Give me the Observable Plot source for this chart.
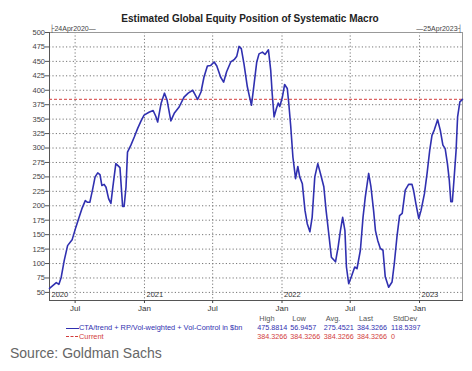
<!DOCTYPE html>
<html><head><meta charset="utf-8">
<script src="https://cdn.jsdelivr.net/npm/d3@7"></script>
<script src="https://cdn.jsdelivr.net/npm/@observablehq/plot@0.6"></script>
<style>
body{margin:0;background:#fff;font-family:"Liberation Sans",Arial,sans-serif;}
#wrap{position:relative;width:472px;height:371px;overflow:hidden;}
#wrap svg{position:absolute;left:0;top:0;}
.abs{position:absolute;white-space:nowrap;line-height:1;}
</style></head><body><div id="wrap"></div>
<script>
const dates = [
"2020-04-24","2020-05-12","2020-05-19","2020-05-25","2020-06-02","2020-06-11","2020-06-23","2020-07-03","2020-07-12","2020-07-19",
"2020-07-28","2020-08-03","2020-08-09","2020-08-16","2020-08-23","2020-08-30","2020-09-05","2020-09-10","2020-09-16","2020-09-21",
"2020-09-28","2020-10-04","2020-10-09","2020-10-17","2020-10-22","2020-10-28","2020-11-04","2020-11-08","2020-11-13","2020-11-17",
"2020-11-26","2020-12-05","2020-12-14","2020-12-23","2020-12-31","2021-01-13","2021-01-24","2021-01-31","2021-02-05","2021-02-14",
"2021-02-23","2021-03-02","2021-03-12","2021-03-21","2021-04-03","2021-04-16","2021-04-27","2021-05-09","2021-05-15","2021-05-22",
"2021-05-31","2021-06-08","2021-06-17","2021-06-26","2021-07-05","2021-07-12","2021-07-22","2021-07-30","2021-08-07","2021-08-18",
"2021-08-27","2021-09-03","2021-09-09","2021-09-15","2021-09-22","2021-10-01","2021-10-07","2021-10-12","2021-10-18","2021-10-26",
"2021-11-01","2021-11-10","2021-11-17","2021-11-26","2021-12-02","2021-12-06","2021-12-11","2021-12-17","2021-12-22","2021-12-26",
"2022-01-02","2022-01-08","2022-01-15","2022-01-19","2022-01-24","2022-01-30","2022-02-06","2022-02-12","2022-02-17","2022-02-24",
"2022-03-03","2022-03-09","2022-03-16","2022-03-22","2022-03-29","2022-04-06","2022-04-13","2022-04-22","2022-04-28","2022-05-05",
"2022-05-12","2022-05-23","2022-05-30","2022-06-05","2022-06-11","2022-06-17","2022-06-21","2022-06-27","2022-07-04","2022-07-13",
"2022-07-19","2022-07-28","2022-08-04","2022-08-10","2022-08-19","2022-08-25","2022-09-01","2022-09-06","2022-09-12","2022-09-19",
"2022-09-26","2022-10-02","2022-10-11","2022-10-20","2022-10-26","2022-11-02","2022-11-09","2022-11-16","2022-11-24","2022-12-03",
"2022-12-12","2022-12-16","2022-12-23","2022-12-30","2023-01-05","2023-01-14","2023-01-21","2023-01-28","2023-02-03","2023-02-09",
"2023-02-18","2023-02-25","2023-03-04","2023-03-10","2023-03-16","2023-03-21","2023-03-25","2023-03-29","2023-04-03","2023-04-08",
"2023-04-12","2023-04-18","2023-04-25"
];
const values = [
57,67,64,76,105,131,141,163,181,195,
209,206,206,227,250,257,254,235,237,232,
212,204,232,273,270,266,199,199,232,293,
305,319,334,347,357,362,365,355,345,377,
395,383,347,360,371,388,395,400,393,384,
397,423,442,443,449,442,423,414,432,449,
453,459,475.9,472,446,406,388,374,406,449,
463,466,462,470,435,394,354,368,378,372,
388,410,403,377,339,284,247,268,250,238,
192,169,155,180,250,273,256,233,192,152,
111,103,129,157,180,157,94,65,77,94,
91,123,180,215,256,233,192,157,140,126,
123,77,59,68,100,146,183,187,227,237,
237,227,201,178,192,221,256,296,322,331,
349,331,305,299,273,244,207,207,250,296,
354,380,384.3
];
const currentValue = 384.3266;
const xTickDates = ["2020-07-01","2021-01-01","2021-07-01","2022-01-01","2022-07-01","2023-01-01"];
const yTicks = [50,75,100,125,150,175,200,225,250,275,300,325,350,375,400,425,450,475,500];
const yearLabels = ["2020","2021","2022","2023"];
const yearDates = ["2020-04-24","2021-01-01","2022-01-01","2023-01-01"];
const startLabel = "├24Apr2020—";
const endLabel = "—25Apr2023┤";
const title = "Estimated Global Equity Position of Systematic Macro";
const statHeaders = ["High","Low","Avg.","Last","StdDev"];
const seriesStats = ["475.8814","56.9457","275.4521","384.3266","118.5397"];
const currentStats = ["384.3266","384.3266","384.3266","384.3266","0"];
const seriesName = "CTA/trend + RP/Vol-weighted + Vol-Control in $bn";
const currentName = "Current";
const source = "Source: Goldman Sachs";

const BLUE = "#3030b0", RED = "#d23c3c";
const data = dates.map((d,i)=>({date:new Date(d), value:values[i]}));
const xt = xTickDates.map(d=>new Date(d));

const chart = Plot.plot({
  width:472, height:315,
  marginTop:32, marginBottom:15, marginLeft:49, marginRight:10,
  style:{fontFamily:'"Liberation Sans",Arial,sans-serif', background:"white", color:"#444", overflow:"visible"},
  x:{type:"utc", domain:[new Date("2020-04-24"), new Date("2023-04-25")]},
  y:{domain:[36,500]},
  marks:[
    Plot.gridY(yTicks,{stroke:"#777", strokeOpacity:1, strokeDasharray:"1.2,2.2"}),
    Plot.gridX(xt,{stroke:"#777", strokeOpacity:1, strokeDasharray:"1.2,2.2"}),
    Plot.frame({stroke:"#999"}),
    Plot.frame({anchor:"left", stroke:"#555"}),
    Plot.frame({anchor:"bottom", stroke:"#555"}),
    Plot.axisY(yTicks,{tickSize:4, tickPadding:0.5, fontSize:7.5, label:null, stroke:"#555"}),
    Plot.axisX(xt,{tickSize:3, tickPadding:2, fontSize:8, label:null, fill:"#333", tickFormat:d=>d.getUTCMonth()===0?"Jan":"Jul"}),
    Plot.ruleY([currentValue],{stroke:RED, strokeDasharray:"3,2", strokeWidth:1}),
    Plot.line(data,{x:"date", y:"value", stroke:BLUE, strokeWidth:1.6}),
    Plot.text(yearLabels,{x:(d,i)=>new Date(yearDates[i]), text:d=>d, frameAnchor:"bottom", dy:-4, dx:2, textAnchor:"start", fontSize:7.5, fill:"#333"}),
    Plot.text([startLabel],{text:d=>d, frameAnchor:"top-left", dy:-2, textAnchor:"start", lineAnchor:"bottom", fontSize:7, fill:"#444"}),
    Plot.text([endLabel],{text:d=>d, frameAnchor:"top-right", dy:-2, textAnchor:"end", lineAnchor:"bottom", fontSize:7, fill:"#444"})
  ]
});
const wrap = document.getElementById("wrap");
wrap.appendChild(chart);

function addText(txt, left, top, css){
  const d = document.createElement("div");
  d.className = "abs";
  d.textContent = txt;
  d.style.left = left+"px"; d.style.top = top+"px";
  Object.assign(d.style, css||{});
  wrap.appendChild(d);
  return d;
}
addText(title, 0, 14, {width:"500px", textAlign:"center", fontWeight:"bold", fontSize:"10px", color:"#222"});

// legend
const seg1 = document.createElement("div");
seg1.className="abs"; Object.assign(seg1.style,{left:"66px",top:"327.5px",width:"13px",height:"0",borderTop:"1.5px solid "+BLUE});
wrap.appendChild(seg1);
const seg2 = document.createElement("div");
seg2.className="abs"; Object.assign(seg2.style,{left:"66px",top:"336px",width:"12px",height:"0",borderTop:"1px dashed "+RED});
wrap.appendChild(seg2);
addText(seriesName, 79, 324.3, {fontSize:"7.4px", color:BLUE});
addText(currentName, 79, 332.8, {fontSize:"7.4px", color:RED});
const colX = [257.3, 290.3, 323.7, 357, 391];
statHeaders.forEach((h,i)=>addText(h, colX[i]+2, 315.3, {fontSize:"7.4px", color:"#555"}));
seriesStats.forEach((v,i)=>addText(v, colX[i], 324.3, {fontSize:"7.2px", color:BLUE}));
currentStats.forEach((v,i)=>addText(v, colX[i], 332.8, {fontSize:"7.2px", color:RED}));
addText(source, 10, 346, {fontSize:"14px", color:"#666"});
</script></body></html>
